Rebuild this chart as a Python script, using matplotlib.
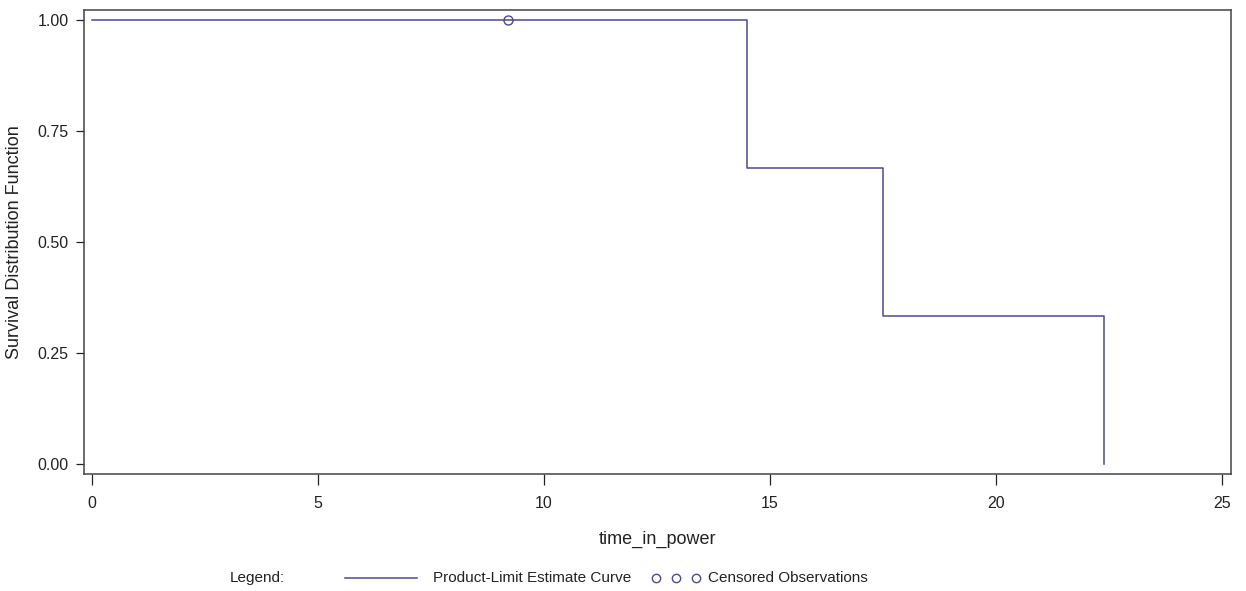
import matplotlib
matplotlib.use("Agg")
import matplotlib.pyplot as plt
from matplotlib.lines import Line2D

plt.rcParams["font.family"] = ["Liberation Sans", "DejaVu Sans"]

# Kaplan-Meier step estimate
tiempos = [0, 14.5, 17.5, 22.4]
supervivencia = [1.0, 2 / 3, 1 / 3, 0.0]
censura_t = [9.2]
censura_s = [1.0]

xticks = [0, 5, 10, 15, 20, 25]
yticks = [0.0, 0.25, 0.50, 0.75, 1.00]

COLOR = "#4a4a8c"
MARCO = "#444444"
TEXTO = "#222222"

fig = plt.figure(figsize=(12.46, 5.91), dpi=100)
ax = fig.add_axes([84 / 1246, 1 - 474 / 591, (1231 - 84) / 1246, (474 - 10) / 591])

ax.step(tiempos, supervivencia, where="post", color=COLOR, lw=1.1)
ax.plot(censura_t, censura_s, "o", mfc="none", mec=COLOR, ms=6.5, mew=1.0)

ax.set_xlim(-0.18, 25.2)
ax.set_ylim(-0.0225, 1.0225)
ax.set_xticks(xticks)
ax.set_yticks(yticks)
ax.set_yticklabels([f"{v:.2f}" for v in yticks])
ax.tick_params(labelsize=11.5, colors=TEXTO, direction="out", width=0.9)
ax.tick_params(axis="x", length=8, pad=8)
ax.tick_params(axis="y", length=6, pad=5)
for s in ax.spines.values():
    s.set_color(MARCO)
    s.set_linewidth(1.1)

ax.set_xlabel("time_in_power", fontsize=13, color=TEXTO)
ax.set_ylabel("Survival Distribution Function", fontsize=13, color=TEXTO)
ax.xaxis.set_label_coords(0.5, -0.123)
ax.yaxis.set_label_coords(-0.053, 0.5)

# Leyenda al estilo SAS
y_ley = 1 - 578 / 591
fig.text(230 / 1246, y_ley, "Legend:", fontsize=11, va="center", color=TEXTO)
fig.add_artist(Line2D([345 / 1246, 417 / 1246], [y_ley] * 2,
                      transform=fig.transFigure, color=COLOR, lw=1.1))
fig.text(433 / 1246, y_ley, "Product-Limit Estimate Curve", fontsize=11,
         va="center", color=TEXTO)
fig.add_artist(Line2D([656 / 1246, 676 / 1246, 696 / 1246], [y_ley] * 3,
                      transform=fig.transFigure, ls="none", marker="o",
                      mfc="none", mec=COLOR, ms=6, mew=1.0))
fig.text(708 / 1246, y_ley, "Censored Observations", fontsize=11,
         va="center", color=TEXTO)

fig.savefig("out.png", dpi=100)
